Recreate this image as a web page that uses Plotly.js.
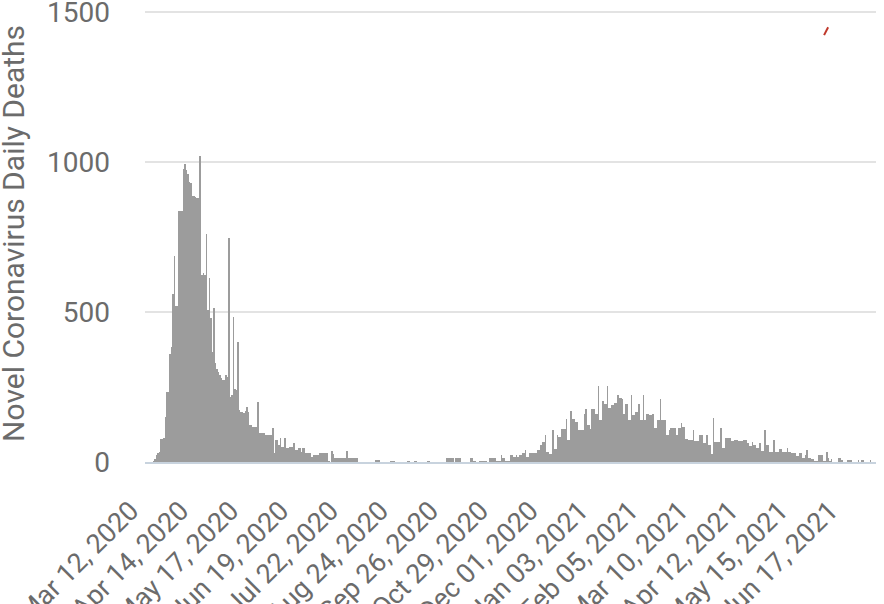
<!DOCTYPE html>
<html>
<head>
<meta charset="utf-8">
<script src="https://cdn.plot.ly/plotly-3.0.1.min.js"></script>
<style>html,body{margin:0;padding:0;background:#fff;}#chart{width:884px;height:604px;}</style>
</head>
<body>
<div id="chart"></div>
<script>
// First day of the series
const startDate = Date.UTC(2020, 2, 12);

// Daily deaths, one value per day starting Mar 12, 2020
const dailyDeaths = [
  0,0,0,0,0,3,10,22,30,35,
  78,78,80,150,235,235,360,385,560,687,
  520,520,838,838,838,978,995,972,961,933,
  930,888,888,885,880,880,1020,625,631,625,
  760,508,614,480,368,514,330,310,301,290,
  280,273,275,290,285,748,218,225,482,242,
  240,400,175,168,168,165,170,184,168,123,
  123,118,118,118,200,96,96,96,96,90,
  90,90,90,90,112,30,73,73,57,79,
  51,51,79,46,46,51,51,51,62,40,
  40,46,46,34,46,46,29,29,29,29,
  18,23,23,23,23,29,29,29,29,29,
  29,5,0,38,27,12,12,12,12,12,
  12,12,12,38,12,12,12,12,12,12,
  12,0,0,0,0,0,0,0,0,0,
  0,0,8,8,8,0,0,0,0,0,
  0,0,5,5,5,0,0,0,0,0,
  0,0,0,5,5,0,0,0,5,5,
  0,0,0,0,0,0,5,5,0,0,
  0,0,0,0,0,0,0,0,0,12,
  12,12,12,15,0,15,15,15,15,0,
  0,0,0,0,0,15,15,4,4,0,
  0,5,5,5,5,3,0,13,13,13,
  13,13,5,5,5,22,13,13,5,5,
  5,22,22,17,17,22,17,22,22,31,
  31,39,17,17,31,31,31,31,31,39,
  39,56,67,67,89,33,33,28,28,106,
  44,44,89,83,83,111,111,111,144,72,
  72,169,144,144,133,133,106,106,106,106,
  161,178,122,122,111,178,178,161,161,253,
  139,139,202,194,194,253,180,180,189,189,
  198,198,224,213,213,211,161,194,194,139,
  139,224,156,156,167,167,194,139,139,224,
  139,161,161,158,158,161,113,113,139,139,
  211,140,140,140,90,90,107,114,114,114,
  114,90,112,112,129,118,118,77,77,73,
  73,73,107,70,70,70,90,90,90,62,
  62,90,57,57,26,148,66,66,66,66,
  114,46,46,81,81,81,81,70,70,73,
  73,73,70,70,70,73,73,73,62,54,
  54,68,57,57,46,46,62,37,37,107,
  57,57,32,32,32,73,34,34,34,43,
  43,34,34,34,48,34,34,29,29,29,
  21,21,29,29,14,14,23,40,14,14,
  10,10,3,3,3,23,23,23,3,3,
  32,12,3,10,0,0,0,0,14,14,
  7,0,0,0,7,7,7,0,0,0,
  0,7,0,7,7,0,0,0,0,7,
  0,0,0
];

// Tick positions and labels on the date axis
const tickDates = ['2020-03-12','2020-04-14','2020-05-17','2020-06-19','2020-07-22','2020-08-24',
  '2020-09-26','2020-10-29','2020-12-01','2021-01-03','2021-02-05','2021-03-10',
  '2021-04-12','2021-05-15','2021-06-17'];
const tickLabels = ['Mar 12, 2020','Apr 14, 2020','May 17, 2020','Jun 19, 2020','Jul 22, 2020',
  'Aug 24, 2020','Sep 26, 2020','Oct 29, 2020','Dec 01, 2020','Jan 03, 2021','Feb 05, 2021',
  'Mar 10, 2021','Apr 12, 2021','May 15, 2021','Jun 17, 2021'];

const yTicks = [0, 500, 1000, 1500];
const yTitle = 'Novel Coronavirus Daily Deaths';

const DAY = 86400000;
const dates = dailyDeaths.map((_, i) => new Date(startDate + i * DAY).toISOString().slice(0, 10));
const rangeStart = new Date(startDate - DAY / 2).toISOString().replace('T', ' ').slice(0, 19);
const rangeEnd = new Date(startDate + (dailyDeaths.length - 0.5) * DAY).toISOString().replace('T', ' ').slice(0, 19);

const trace = {
  type: 'bar',
  x: dates,
  y: dailyDeaths,
  width: DAY,
  marker: {color: '#9c9c9c', line: {width: 0}},
  hoverinfo: 'x+y'
};

const font = {family: 'Roboto, "Open Sans", sans-serif', size: 28, color: '#6b6b6b'};

const layout = {
  width: 884,
  height: 604,
  margin: {l: 145, r: 8, t: 10, b: 142},
  paper_bgcolor: '#ffffff',
  plot_bgcolor: '#ffffff',
  font: font,
  showlegend: false,
  bargap: 0,
  xaxis: {
    type: 'date',
    range: [rangeStart, rangeEnd],
    tickvals: tickDates,
    ticktext: tickLabels,
    tickangle: -45,
    tickfont: {family: font.family, size: 27, color: font.color},
    showgrid: false,
    zeroline: false,
    showline: true,
    linecolor: '#c8d3de',
    linewidth: 2,
    ticks: '',
    ticklabelstandoff: 20,
    ticklabelshift: -15,
    ticklabeloverflow: 'allow',
    fixedrange: true
  },
  yaxis: {
    range: [0, 1507],
    tickvals: yTicks,
    ticktext: yTicks.map(String),
    tickfont: font,
    showgrid: true,
    gridcolor: '#e3e3e3',
    gridwidth: 2,
    zeroline: false,
    showline: false,
    ticks: '',
    ticklabelstandoff: 34,
    ticklabeloverflow: 'allow',
    fixedrange: true
  },
  annotations: [{
    text: yTitle,
    xref: 'paper', yref: 'paper',
    x: -0.179, y: 0.505,
    xanchor: 'center', yanchor: 'middle',
    textangle: -90,
    showarrow: false,
    font: {family: font.family, size: 30, color: '#6b6b6b'}
  }],
  shapes: [{
    type: 'path', xref: 'paper', yref: 'paper',
    path: 'M 0.9290,0.9445 L 0.9345,0.9620',
    line: {color: '#c0392b', width: 2}
  }]
};

Plotly.newPlot('chart', [trace], layout, {displayModeBar: false, staticPlot: true});
</script>
</body>
</html>
